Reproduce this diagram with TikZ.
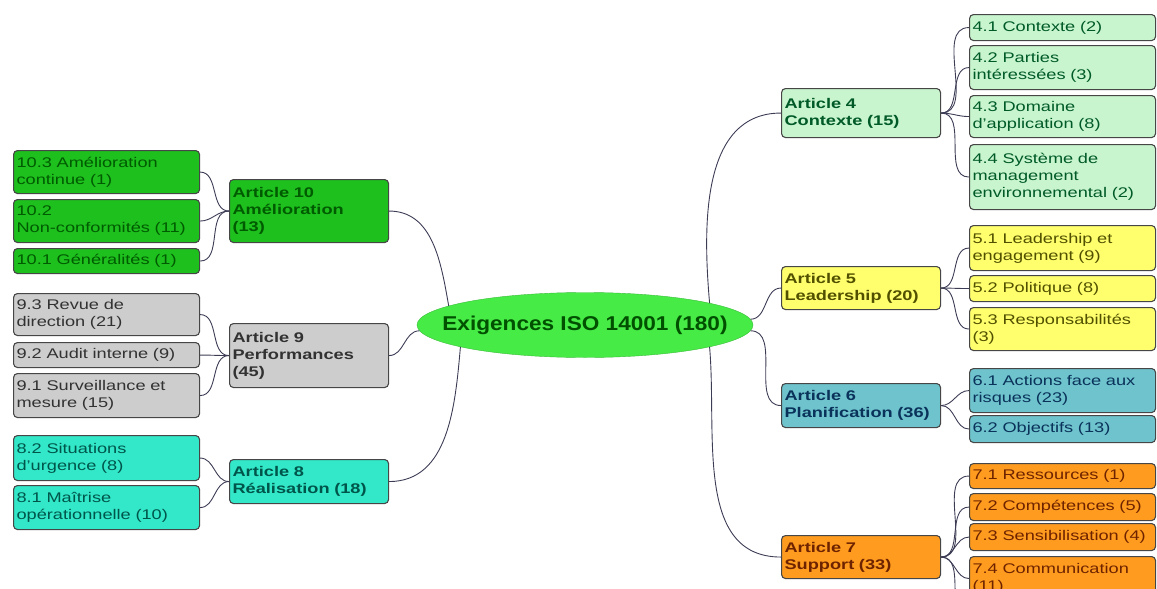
\documentclass[tikz,border=0pt]{standalone}
\usepackage{fontspec}
\setmainfont{Liberation Sans}[FakeStretch=1.3]
\newfontfamily\rootfont{Liberation Sans}[FakeStretch=1.13]
\usetikzlibrary{shapes.geometric}

\definecolor{boxline}{RGB}{70,70,70}
\definecolor{linkc}{RGB}{60,60,85}
\definecolor{rootfill}{RGB}{70,235,70}
\definecolor{roottext}{RGB}{0,80,0}
\definecolor{grnfill}{RGB}{30,192,30}
\definecolor{grntext}{RGB}{0,90,0}
\definecolor{grayfill}{RGB}{205,205,205}
\definecolor{graytext}{RGB}{50,50,50}
\definecolor{cyanfill}{RGB}{50,232,200}
\definecolor{cyantext}{RGB}{0,85,75}
\definecolor{lgrnfill}{RGB}{200,245,205}
\definecolor{lgrntext}{RGB}{0,90,40}
\definecolor{yelfill}{RGB}{255,255,110}
\definecolor{yeltext}{RGB}{80,80,0}
\definecolor{tealfill}{RGB}{110,195,205}
\definecolor{tealtext}{RGB}{10,50,90}
\definecolor{orgfill}{RGB}{255,155,30}
\definecolor{orgtext}{RGB}{110,35,0}

\begin{document}
\begin{tikzpicture}[x=1pt, y=-1pt,
  box/.style = {shape=rectangle, draw=boxline, line width=1.1pt,
    rounded corners=4pt, anchor=north west, align=left,
    inner sep=3pt, font=\fontsize{14}{17}\selectfont},
  sub/.style = {box, minimum width=186pt, text width=180pt},
  art/.style = {box, minimum width=159pt, text width=153pt,
    font=\fontsize{14}{17}\selectfont\bfseries},
  grn/.style = {fill=grnfill, text=grntext},
  gry/.style = {fill=grayfill, text=graytext},
  cyn/.style = {fill=cyanfill, text=cyantext},
  lgr/.style = {fill=lgrnfill, text=lgrntext},
  yel/.style = {fill=yelfill, text=yeltext},
  tea/.style = {fill=tealfill, text=tealtext},
  org/.style = {fill=orgfill, text=orgtext},
  link/.style = {draw=linkc, line width=0.9pt},
 ]
 \useasboundingbox (0,0) rectangle (1157,589);
 \clip (0,0) rectangle (1157,589);

 % centre
 \node[ellipse, draw=rootfill!80!black, fill=rootfill, text=roottext,
   minimum width=336pt, minimum height=65pt, inner sep=0pt,
   font=\rootfont\fontsize{20}{24}\selectfont\bfseries]
   (root) at (585,325) {\makebox[0pt]{Exigences ISO 14001 (180)}};

 % left side
 \node[sub, grn, minimum height=43pt] (c103) at (13,150) {10.3 Amélioration\\continue (1)};
 \node[sub, grn, minimum height=43pt] (c102) at (13,199) {10.2\\Non-conformités (11)};
 \node[sub, grn, minimum height=25pt] (c101) at (13,248) {10.1 Généralités (1)};
 \node[art, grn, minimum height=63pt] (a10) at (229,179) {Article 10\\Amélioration\\(13)};

 \node[sub, gry, minimum height=42pt] (c93) at (13,293) {9.3 Revue de\\direction (21)};
 \node[sub, gry, minimum height=25pt] (c92) at (13,342) {9.2 Audit interne (9)};
 \node[sub, gry, minimum height=44pt] (c91) at (13,373) {9.1 Surveillance et\\mesure (15)};
 \node[art, gry, minimum height=64pt] (a9) at (229,323) {Article 9\\Performances\\(45)};

 \node[sub, cyn, minimum height=45pt] (c82) at (13,435) {8.2 Situations\\d'urgence (8)};
 \node[sub, cyn, minimum height=44pt] (c81) at (13,485) {8.1 Maîtrise\\opérationnelle (10)};
 \node[art, cyn, minimum height=44pt] (a8) at (229,459) {Article 8\\Réalisation (18)};

 % right side
 \node[sub, lgr, minimum height=26pt] (c41) at (969,14) {4.1 Contexte (2)};
 \node[sub, lgr, minimum height=44pt] (c42) at (969,45) {4.2 Parties\\intéressées (3)};
 \node[sub, lgr, minimum height=42pt] (c43) at (969,95) {4.3 Domaine\\d'application (8)};
 \node[sub, lgr, minimum height=65pt] (c44) at (969,144) {4.4 Système de\\management\\environnemental (2)};
 \node[art, lgr, minimum height=49pt] (a4) at (781,88) {Article 4\\Contexte (15)};

 \node[sub, yel, minimum height=45pt] (c51) at (969,225) {5.1 Leadership et\\engagement (9)};
 \node[sub, yel, minimum height=26pt] (c52) at (969,275) {5.2 Politique (8)};
 \node[sub, yel, minimum height=43pt] (c53) at (969,307) {5.3 Responsabilités\\(3)};
 \node[art, yel, minimum height=43pt] (a5) at (781,266) {Article 5\\Leadership (20)};

 \node[sub, tea, minimum height=44pt] (c61) at (969,368) {6.1 Actions face aux\\risques (23)};
 \node[sub, tea, minimum height=27pt] (c62) at (969,415) {6.2 Objectifs (13)};
 \node[art, tea, minimum height=44pt] (a6) at (781,383) {Article 6\\Planification (36)};

 \node[sub, org, minimum height=25pt] (c71) at (969,463) {7.1 Ressources (1)};
 \node[sub, org, minimum height=27pt] (c72) at (969,493) {7.2 Compétences (5)};
 \node[sub, org, minimum height=27pt] (c73) at (969,523) {7.3 Sensibilisation (4)};
 \node[sub, org, minimum height=44pt] (c74) at (969,556) {7.4 Communication\\(11)};
 \node[art, org, minimum height=43pt] (a7) at (781,535) {Article 7\\Support (33)};
 \coordinate (c75) at (969,620);

 % branches from the centre
 \draw[link] (root.10) to[out=95, in=180] (a4.west);
 \draw[link] (root.2) to[out=0, in=180] (a5.west);
 \draw[link] (root.-2) to[out=0, in=180] (a6.west);
 \draw[link] (root.-10) to[out=-85, in=180] (a7.west);
 \draw[link] (a10.east) to[out=0, in=100] (root.172);
 \draw[link] (a9.east) to[out=0, in=180] (root.182);
 \draw[link] (a8.east) to[out=0, in=-95] (root.190);

 % sub-branches
 \foreach \c in {c103,c102,c101} \draw[link] (\c.east) to[out=0, in=180] (a10.west);
 \foreach \c in {c93,c92,c91} \draw[link] (\c.east) to[out=0, in=180] (a9.west);
 \foreach \c in {c82,c81} \draw[link] (\c.east) to[out=0, in=180] (a8.west);
 \foreach \c in {c41,c42,c43,c44} \draw[link] (a4.east) to[out=0, in=180] (\c.west);
 \foreach \c in {c51,c52,c53} \draw[link] (a5.east) to[out=0, in=180] (\c.west);
 \foreach \c in {c61,c62} \draw[link] (a6.east) to[out=0, in=180] (\c.west);
 \foreach \c in {c71,c72,c73,c74,c75} \draw[link] (a7.east) to[out=0, in=180] (\c);
\end{tikzpicture}
\end{document}
